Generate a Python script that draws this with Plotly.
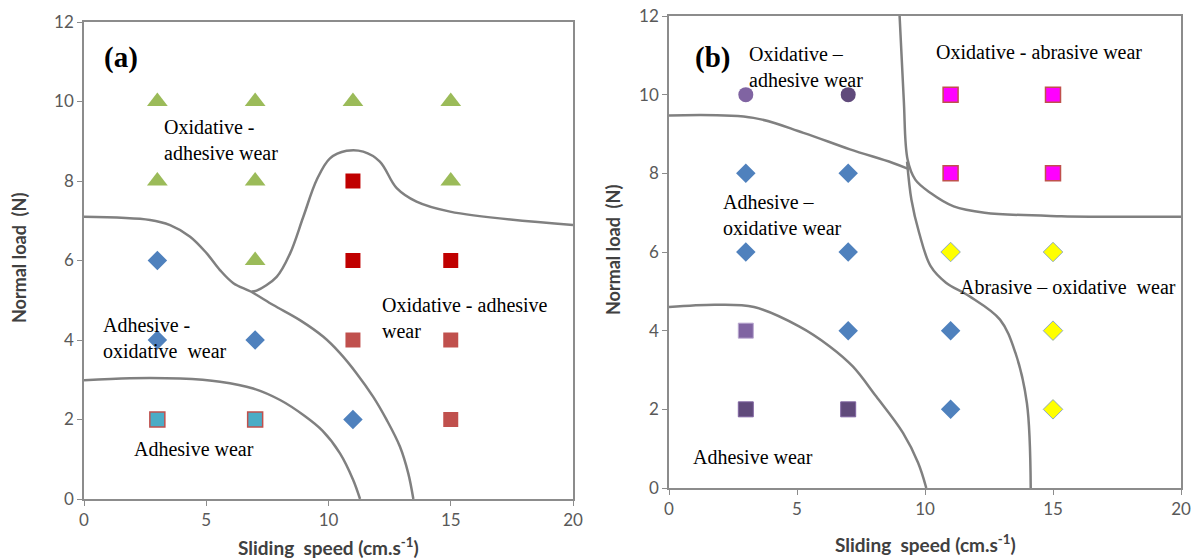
import plotly.graph_objects as go

# page body has an 8px margin: the figure is placed at (8, 8) inside the 1199x559 window
OFF = 8
W, H = 1199 - OFF, 559 - OFF

# ---------------- Panel (a) data ----------------
a_tri_x = [3, 7, 11, 15, 3, 7, 15, 7]
a_tri_y = [10, 10, 10, 10, 8, 8, 8, 6]
a_dia_x = [3, 3, 7, 11]
a_dia_y = [6, 4, 4, 2]
a_dred_x = [11, 11, 15]
a_dred_y = [8, 6, 6]
a_red_x = [11, 15, 15]
a_red_y = [4, 4, 2]
a_teal_x = [3, 7]
a_teal_y = [2, 2]

a_curveA_x = [0, 2.7, 3.52, 4.34, 5.02, 5.56, 6.11, 6.82, 7.74, 8.83, 9.79, 10.47, 11.15, 11.83, 12.38, 12.92, 13.26, 13.47]
a_curveA_y = [7.1, 7.02, 6.89, 6.6, 6.18, 5.76, 5.43, 5.22, 4.88, 4.5, 4.08, 3.67, 3.16, 2.57, 1.99, 1.32, 0.65, 0]
a_curveB_x = [6.85, 7.06, 7.88, 8.43, 8.97, 9.52, 10.06, 10.74, 11.42, 12.1, 12.79, 13.6, 14.97, 20]
a_curveB_y = [5.22, 5.24, 5.59, 6.18, 7.1, 8.03, 8.57, 8.76, 8.74, 8.49, 7.82, 7.48, 7.23, 6.89]
a_curveC_x = [0, 1.88, 3.93, 5.56, 6.92, 8.02, 9.0, 9.75, 10.47, 11.01, 11.29]
a_curveC_y = [2.99, 3.04, 3.03, 2.95, 2.78, 2.49, 2.1, 1.72, 1.15, 0.48, 0]

# ---------------- Panel (b) data ----------------
b_circ_light_x = [3]
b_circ_light_y = [10]
b_circ_dark_x = [7]
b_circ_dark_y = [10]
b_mag_x = [11, 15, 11, 15]
b_mag_y = [10, 10, 8, 8]
b_dia_x = [3, 7, 3, 7, 7, 11, 11]
b_dia_y = [8, 8, 6, 6, 4, 4, 2]
b_yel_x = [11, 15, 15, 15]
b_yel_y = [6, 6, 4, 2]
b_sq_light_x = [3]
b_sq_light_y = [4]
b_sq_dark_x = [3, 7]
b_sq_dark_y = [2, 2]

b_curveD_x = [0, 3.3, 5.25, 7.07, 8.72, 9.32]
b_curveD_y = [9.47, 9.41, 9.03, 8.61, 8.27, 8.12]
b_curveE_x = [9.0, 9.17, 9.32, 9.62, 10.22, 11.12, 12.33, 15.33, 20.2]
b_curveE_y = [12.1, 9.88, 8.35, 7.84, 7.5, 7.16, 7.0, 6.91, 6.9]
b_curveF_x = [9.3, 9.47, 9.77, 10.22, 10.82, 11.72, 12.93, 13.53, 13.98, 14.13]
b_curveF_y = [8.3, 7.33, 6.49, 5.64, 5.22, 4.88, 4.28, 3.44, 2.16, 0]
b_curveG_x = [0, 1.82, 3.32, 5.08, 6.28, 7.18, 8.09, 9.14, 9.73, 10.05]
b_curveG_y = [4.6, 4.66, 4.6, 4.11, 3.6, 3.09, 2.33, 1.4, 0.64, 0]

x_ticks = [0, 5, 10, 15, 20]
y_ticks = [0, 2, 4, 6, 8, 10, 12]

x_title = "Sliding  speed (cm.s<sup>-1</sup>)"
y_title = "Normal load  (N)"

LINE = dict(color="#808080", width=2.5, shape="spline", smoothing=1.0)

fig = go.Figure()


def curve(x, y, xa, ya):
    fig.add_trace(go.Scatter(x=x, y=y, mode="lines", line=LINE, xaxis=xa, yaxis=ya,
                             hoverinfo="skip", cliponaxis=False))


def pts(x, y, sym, size, fill, border, bw, xa, ya):
    fig.add_trace(go.Scatter(x=x, y=y, mode="markers", xaxis=xa, yaxis=ya,
                             marker=dict(symbol=sym, size=size, color=fill,
                                         line=dict(color=border, width=bw))))


# Panel (a)
curve(a_curveA_x, a_curveA_y, "x", "y")
curve(a_curveB_x, a_curveB_y, "x", "y")
curve(a_curveC_x, a_curveC_y, "x", "y")
pts(a_tri_x, a_tri_y, "triangle-up", 18, "#9BBB59", "#9BBB59", 0, "x", "y")
pts(a_dia_x, a_dia_y, "diamond", 15, "#4F81BD", "#4F81BD", 0, "x", "y")
pts(a_dred_x, a_dred_y, "square", 15, "#C00000", "#C00000", 0, "x", "y")
pts(a_red_x, a_red_y, "square", 15, "#C0504D", "#C0504D", 0, "x", "y")
pts(a_teal_x, a_teal_y, "square", 15, "#4BACC6", "#C0504D", 1.5, "x", "y")

# Panel (b)
curve(b_curveD_x, b_curveD_y, "x2", "y2")
curve(b_curveE_x, b_curveE_y, "x2", "y2")
curve(b_curveF_x, b_curveF_y, "x2", "y2")
curve(b_curveG_x, b_curveG_y, "x2", "y2")
pts(b_circ_light_x, b_circ_light_y, "circle", 15, "#8064A2", "#8064A2", 0, "x2", "y2")
pts(b_circ_dark_x, b_circ_dark_y, "circle", 15, "#604A7B", "#604A7B", 0, "x2", "y2")
pts(b_mag_x, b_mag_y, "square", 15, "#FF00FF", "#C0504D", 1.5, "x2", "y2")
pts(b_dia_x, b_dia_y, "diamond", 15, "#4F81BD", "#4F81BD", 0, "x2", "y2")
pts(b_yel_x, b_yel_y, "diamond", 15, "#FFFF00", "#8EA9C1", 1, "x2", "y2")
pts(b_sq_light_x, b_sq_light_y, "square", 15, "#8064A2", "#B9A8D0", 1, "x2", "y2")
pts(b_sq_dark_x, b_sq_dark_y, "square", 15, "#604A7B", "#8064A2", 1, "x2", "y2")

axis_common = dict(showgrid=False, zeroline=False, showline=True, mirror=True, automargin=False,
                   ticklabeloverflow="allow",
                   linecolor="#8C8C8C", linewidth=1.5, ticks="outside", ticklen=5,
                   tickcolor="#8C8C8C", tickfont=dict(family="Lato", size=17, color="#595959"))


def px_x(p):
    return (p - OFF) / W


def px_y(p):
    return 1 - (p - OFF) / H


fig.update_layout(
    width=W, height=H, paper_bgcolor="white", plot_bgcolor="white",
    margin=dict(l=0, r=0, t=0, b=0, autoexpand=False), showlegend=False,
    xaxis=dict(domain=[px_x(84), px_x(573)], range=[0, 20], tickvals=x_ticks, anchor="y", **axis_common),
    yaxis=dict(domain=[px_y(499), px_y(22)], range=[0, 12], tickvals=y_ticks, anchor="x", **axis_common),
    xaxis2=dict(domain=[px_x(669), px_x(1181)], range=[0, 20], tickvals=x_ticks, anchor="y2", **axis_common),
    yaxis2=dict(domain=[px_y(488), px_y(16)], range=[0, 12], tickvals=y_ticks, anchor="x2", **axis_common),
)

SERIF = dict(family="Liberation Serif", size=20, color="black")


def label(text, x, y, xa, ya, anchor="left", font=SERIF):
    fig.add_annotation(text=text, x=x, y=y, xref=xa, yref=ya, showarrow=False,
                       xanchor=anchor, yanchor="middle", align="left", font=font)


BOLD = dict(family="Liberation Serif", size=29, color="black")
label("<b>(a)</b>", 0.75, 11.1, "x", "y", font=BOLD)
label("Oxidative -<br>adhesive wear", 3.2, 9.03, "x", "y")
label("Adhesive -<br>oxidative  wear", 0.7, 4.05, "x", "y")
label("Oxidative - adhesive<br>wear", 12.1, 4.55, "x", "y")
label("Adhesive wear", 1.95, 1.26, "x", "y")

label("<b>(b)</b>", 0.95, 10.95, "x2", "y2", font=BOLD)
label("Oxidative –<br>adhesive wear", 3.05, 10.7, "x2", "y2")
label("Oxidative - abrasive wear", 10.35, 11.08, "x2", "y2")
label("Adhesive –<br>oxidative wear", 2.05, 6.93, "x2", "y2")
label("Abrasive – oxidative  wear", 11.3, 5.12, "x2", "y2")
label("Adhesive wear", 0.85, 0.8, "x2", "y2")

XT = dict(family="Lato", size=19, color="#404040")
YT = dict(family="Lato", size=18, color="#404040")
for cx, cy in [(328.5, 546), (925, 543)]:
    fig.add_annotation(text="<b>" + x_title + "</b>", x=px_x(cx), y=px_y(cy), xref="paper", yref="paper",
                       showarrow=False, xanchor="center", yanchor="middle", font=XT)
for cx, cy in [(19, 258), (613, 250)]:
    fig.add_annotation(text="<b>" + y_title + "</b>", x=px_x(cx), y=px_y(cy), xref="paper", yref="paper",
                       showarrow=False, xanchor="center", yanchor="middle", textangle=-90, font=YT)

fig.write_html("out.html")
